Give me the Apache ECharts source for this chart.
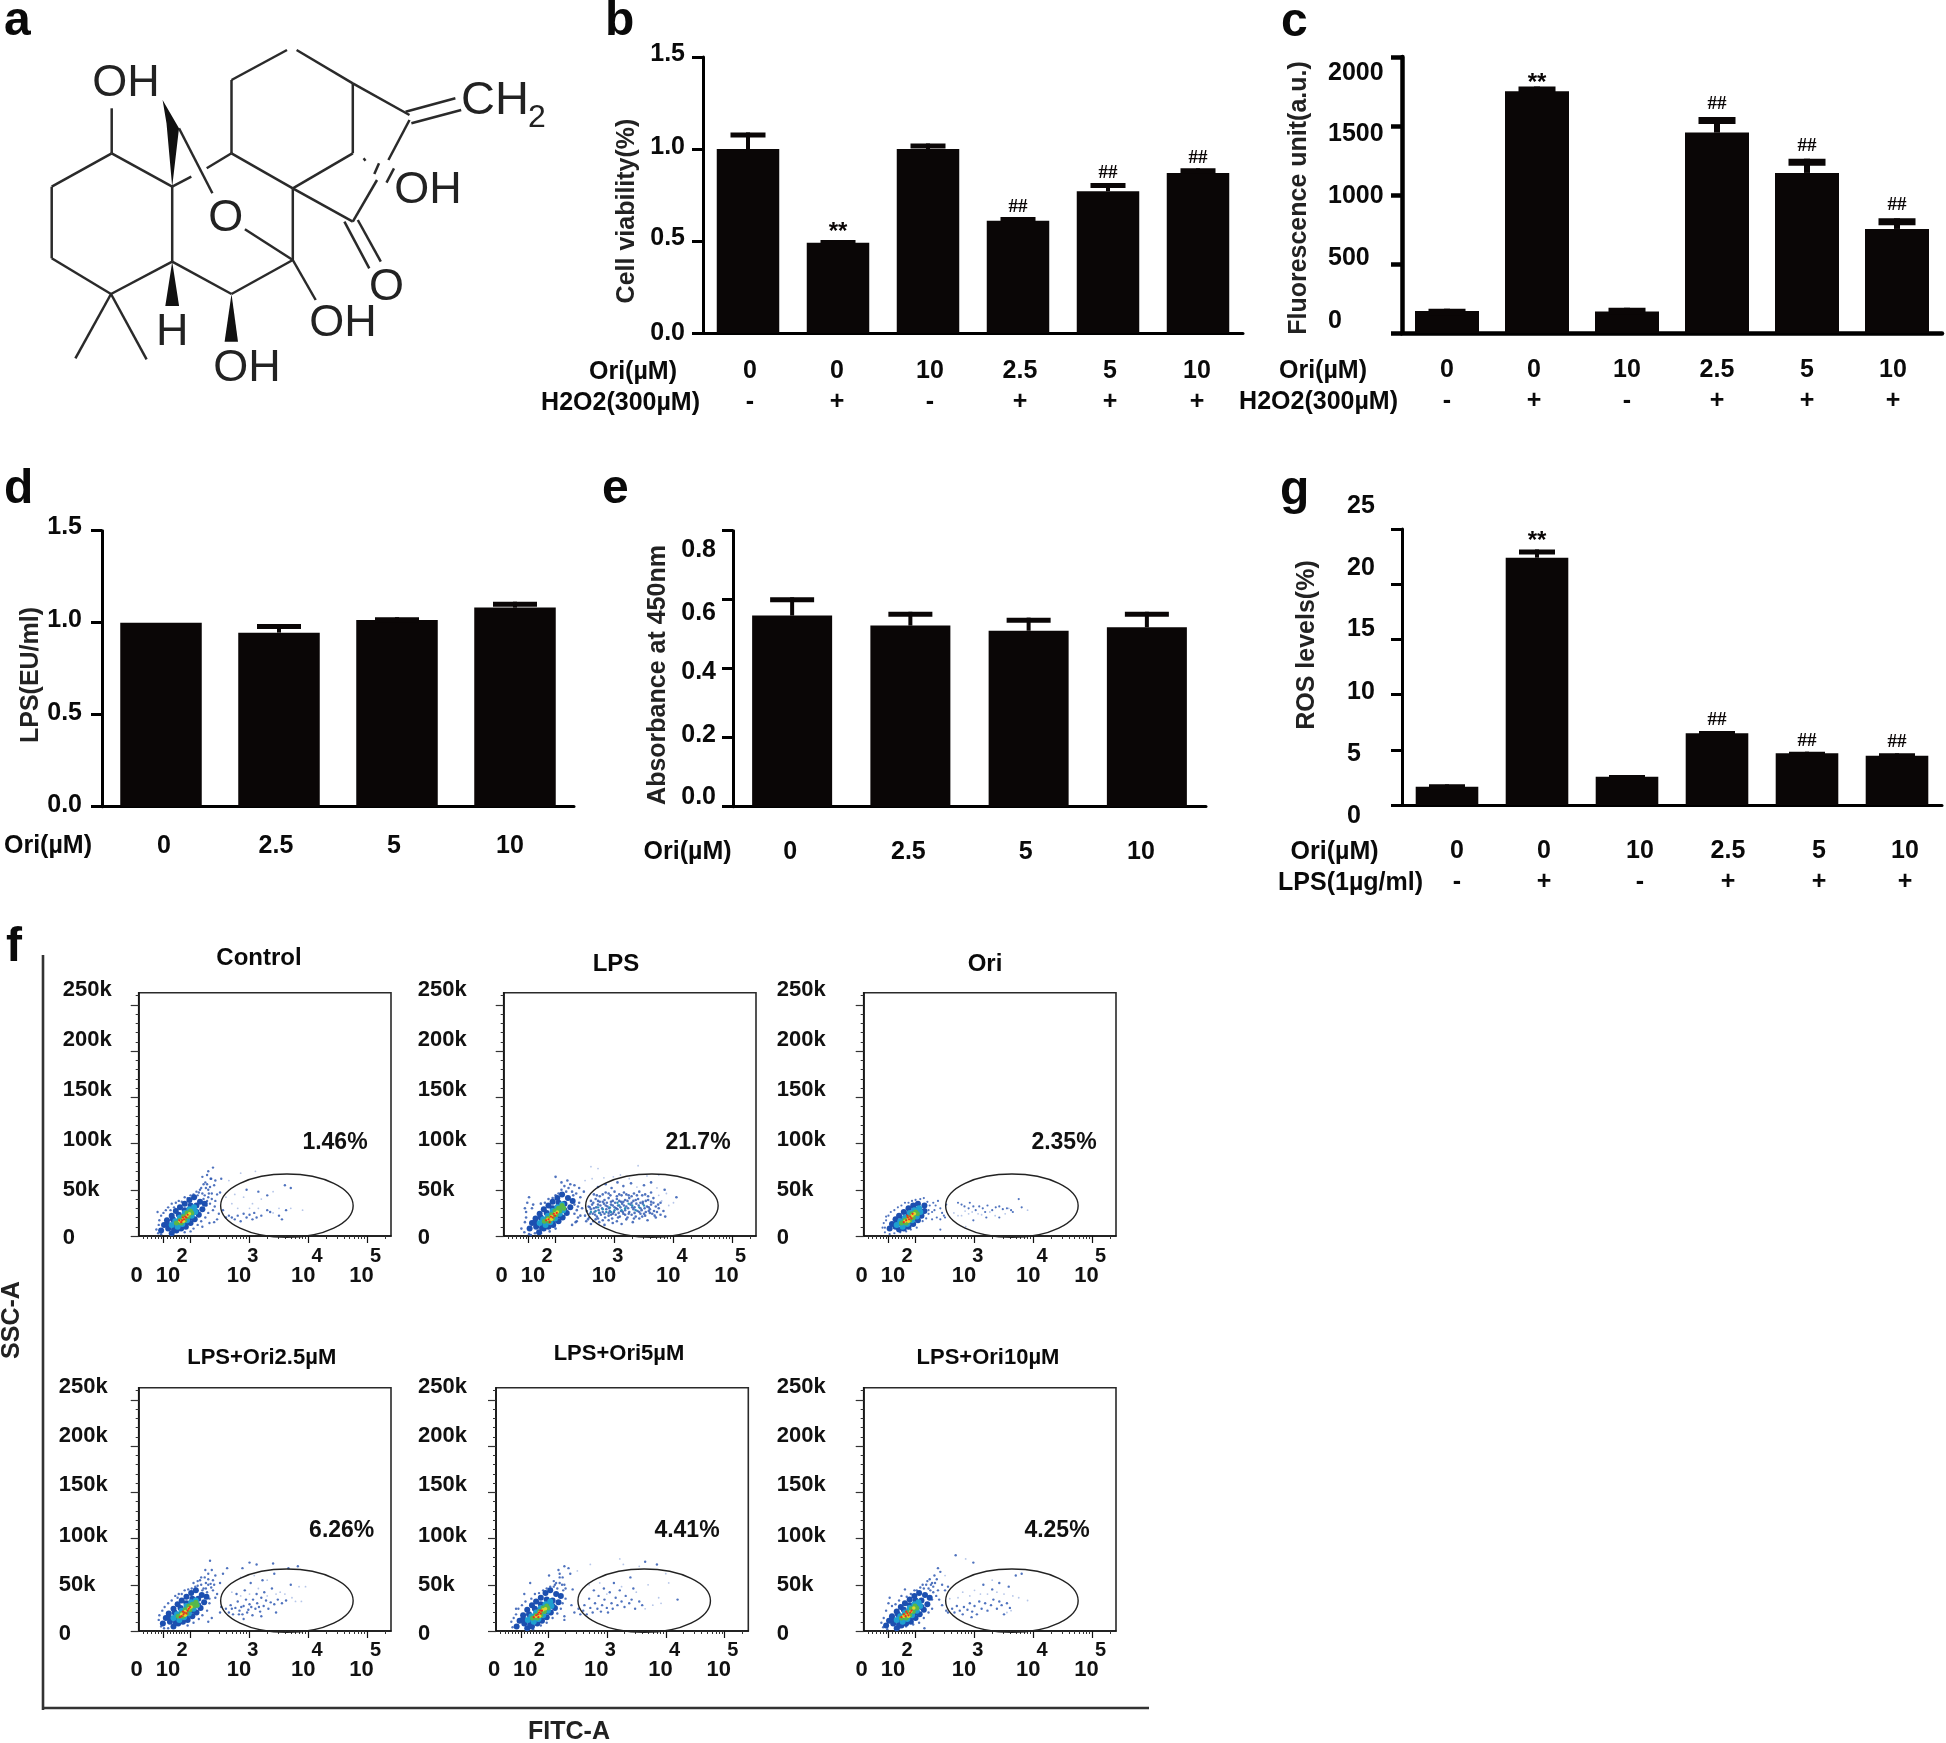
<!DOCTYPE html>
<html>
<head>
<meta charset="utf-8">
<title>Oridonin figure</title>
<script src="https://cdn.jsdelivr.net/npm/echarts@6/dist/echarts.min.js"></script>
<style>
  html, body { margin: 0; background: #fff; }
  #main { width: 1946px; height: 1743px; }
</style>
</head>
<body>
<div id="main"></div>
<script>
// ---- bar panels data ----
const bOri = ['0', '0', '10', '2.5', '5', '10'];
const bH2o2 = ['-', '+', '-', '+', '+', '+'];
const bValues = [1.0, 0.49, 1.0, 0.61, 0.77, 0.87];
const bErrorTop = [1.09, 0.505, 1.03, 0.63, 0.815, 0.895];
const bMarks = ['', '**', '', '##', '##', '##'];
const bTicks = ['0.0', '0.5', '1.0', '1.5'];

const cOri = ['0', '0', '10', '2.5', '5', '10'];
const cH2o2 = ['-', '+', '-', '+', '+', '+'];
const cValues = [159, 1752, 155, 1452, 1160, 754];
const cErrorTop = [176, 1786, 183, 1565, 1263, 831];
const cMarks = ['', '**', '', '##', '##', '##'];
const cTicks = ['0', '500', '1000', '1500', '2000'];

const dOri = ['0', '2.5', '5', '10'];
const dValues = [1.0, 0.946, 1.015, 1.082];
const dErrorTop = [1.0, 0.993, 1.03, 1.114];
const dTicks = ['0.0', '0.5', '1.0', '1.5'];

const eOri = ['0', '2.5', '5', '10'];
const eValues = [0.554, 0.525, 0.51, 0.52];
const eErrorTop = [0.607, 0.565, 0.548, 0.565];
const eTicks = ['0.0', '0.2', '0.4', '0.6', '0.8'];

const gOri = ['0', '0', '10', '2.5', '5', '10'];
const gLps = ['-', '+', '-', '+', '+', '+'];
const gValues = [1.66, 22.4, 2.57, 6.5, 4.68, 4.47];
const gErrorTop = [1.87, 23.15, 2.72, 6.7, 4.83, 4.68];
const gMarks = ['', '**', '', '##', '##', '##'];
const gTicks = ['0', '5', '10', '15', '20', '25'];

// ---- flow cytometry panels: x in log decades, y in thousands ----
const flowYTicks = [0, 50, 100, 150, 200, 250];
const flowYLabels = ['0', '50k', '100k', '150k', '200k', '250k'];
const flowXMajor = [1.54, 2, 3, 4, 5];
const flowXMinor = [1.2, 1.27, 1.33, 1.4, 1.45, 1.5, 1.6, 1.65, 1.7, 1.75, 1.8, 1.85, 1.9, 1.95,
  2.3, 2.48, 2.6, 2.7, 2.78, 2.85, 2.9, 2.95, 3.3, 3.48, 3.6, 3.7, 3.78, 3.85, 3.9, 3.95,
  4.3, 4.48, 4.6, 4.7, 4.78, 4.85, 4.9, 4.95, 5.3];
const flowXLabelAt = [1.12, 1.617, 2.82, 3.91, 4.9];
const flowXExponents = ['', '2', '3', '4', '5'];
const flowGate = [[3.634, 32.8, 1.124, 34.3]];

// blob rows are [x, y, density level]
const controlBlob = [[1.5,6,0],[1.55,12,0],[1.6,17,0],[1.68,22,0],[1.75,27,0],[1.82,31,0],[1.9,35,0],[1.98,39,0],[2.06,42,0],[1.68,3,0],[1.76,6,0],[1.84,8,0],[1.92,10,0],[2.0,14,0],[2.07,18,0],[2.14,23,0],[2.2,29,0],[2.24,35,0],[1.62,8,0],[1.72,12,0],[1.8,16,0],[1.9,22,0],[2.0,28,0],[2.1,33,0],[2.16,37,0],[1.6,13,0],[1.7,18,0],[1.8,23,0],[1.9,28,0],[2.0,33,0],[1.72,7,0],[1.82,11,0],[1.92,15,0],[2.02,20,0],[2.1,26,0],
  [1.68,12,1],[1.74,16,1],[1.82,20,1],[1.9,25,1],[1.98,29,1],[2.06,31,1],[1.78,10,1],[1.86,13,1],[1.94,17,1],[2.02,22,1],[2.08,26,1],
  [1.76,14,2],[1.82,17,2],[1.88,21,2],[1.94,25,2],[2.0,27,2],[1.84,14,2],[1.9,17,2],[1.96,21,2],[2.02,25,2],
  [1.82,16,3],[1.88,19,3],[1.94,22,3],[1.98,24,3],[1.88,16,3],
  [1.81,17,4],[1.84,15,4],[1.87,20,4],[1.89,18,4],[1.91,21,4],[1.93,20,4],[1.86,17,4],[1.95,23,4]];
const controlDots = [[1.45,3],[1.42,7],[1.46,12],[1.5,2],[1.47,17],[1.44,26],[1.5,22],[1.54,25],[1.58,28],[1.62,31],[1.66,28],[1.72,31],[1.68,35],[1.75,36],[1.8,38],[1.85,37],[1.9,42],[1.95,41],[2.0,44],[2.05,45],[2.1,48],[2.12,44],[2.18,52],[2.2,46],[2.25,58],[2.22,40],[2.3,50],[2.34,62],[2.38,74],[2.28,66],[2.4,55],[2.45,45],[2.33,35],[2.38,28],[2.42,38],[2.5,47],[2.52,62],[2.3,25],[2.25,20],[2.18,16],[2.12,12],[2.05,8],[2.2,10],[2.4,15],[2.32,14],[2.6,20],[2.55,28],[2.0,5],[1.9,4],[2.27,33],[2.3,42],[2.36,46],[2.26,52],[2.16,50],[2.22,56],[2.28,56],[2.33,53],[2.14,47],[2.24,44],[2.31,46],[2.36,40],[2.28,38],[2.41,32],[2.48,24],[2.45,18],[2.35,62],[2.2,64],[2.3,70],[2.42,60],
  [2.65,22],[2.7,20],[2.75,18],[2.8,22],[2.85,16],[2.9,24],[2.95,20],[3.0,23],[3.05,18],[3.08,25],[3.12,20],[3.2,22],[3.3,28],[3.35,26],[3.5,22],[3.55,18],[3.62,28],[3.6,55],[3.7,52],[2.95,50],[3.15,48],[3.3,44]];
const controlFaint = [[2.65,60],[2.85,68],[3.1,70],[2.75,45],[2.9,42],[3.05,35],[3.2,40],[2.8,30],[3.0,30],[3.4,48],[3.5,30],[3.9,28],[3.7,30],[2.6,42],[2.7,35],[3.15,30],[3.4,25]];

const lpsBlob = [[1.56,8,0],[1.6,14,0],[1.66,19,0],[1.73,24,0],[1.8,29,0],[1.88,33,0],[1.95,37,0],[2.03,41,0],[2.11,45,0],[1.72,4,0],[1.8,8,0],[1.88,10,0],[1.96,12,0],[2.05,16,0],[2.12,20,0],[2.19,25,0],[2.25,31,0],[2.29,38,0],[1.67,10,0],[1.77,14,0],[1.85,18,0],[1.95,24,0],[2.05,30,0],[2.15,35,0],[2.21,41,0],[1.65,15,0],[1.75,20,0],[1.85,25,0],[1.95,30,0],[2.05,36,0],[1.77,9,0],[1.87,13,0],[1.97,17,0],[2.07,22,0],[2.15,28,0],
  [1.73,14,1],[1.79,18,1],[1.87,22,1],[1.95,27,1],[2.03,31,1],[2.11,34,1],[1.83,12,1],[1.91,15,1],[1.99,19,1],[2.07,24,1],[2.13,28,1],
  [1.81,16,2],[1.87,19,2],[1.93,23,2],[1.99,27,2],[2.05,30,2],[2.11,33,2],[1.89,16,2],[1.95,19,2],[2.01,23,2],[2.07,27,2],[2.14,30,2],
  [1.87,18,3],[1.93,21,3],[1.99,24,3],[2.03,26,3],[1.93,18,3],
  [1.84,17,4],[1.88,18,4],[1.9,15,4],[1.92,21,4],[1.95,20,4],[1.97,24,4],[1.99,22,4],[2.02,25,4],
  [2.68,27,5],[2.74,25,5],[2.8,29,5],[2.86,26,5],[2.92,31,5],[3.0,28,5],[3.08,33,5],[3.18,30,5],[3.3,33,5],[3.42,31,5],[2.72,31,5],[2.94,26,5],[3.12,28,5],[3.24,35,5],[3.36,28,5],[3.5,33,5],[2.6,26,5],[3.05,36,5]];
const lpsDots = [[2.52,16],[2.6,13],[2.68,18],[2.74,15],[2.83,12],[2.9,17],[2.97,14],[3.04,16],[3.12,13],[3.2,18],[3.31,15],[3.42,19],[3.56,17],[3.7,20],
  [2.5,22],[2.57,20],[2.63,24],[2.7,21],[2.77,23],[2.84,20],[2.9,22],[2.96,19],[3.02,23],[3.09,21],[3.15,24],[3.22,20],[3.29,23],[3.36,21],[3.44,24],[3.52,22],[3.6,25],[3.68,22],[3.78,23],[3.86,21],
  [2.53,27],[2.6,29],[2.66,26],[2.73,28],[2.8,26],[2.86,29],[2.92,27],[2.99,26],[3.05,29],[3.11,27],[3.18,28],[3.25,26],[3.32,29],[3.39,27],[3.46,28],[3.53,26],[3.6,29],[3.67,27],[3.75,30],[3.83,27],
  [2.56,32],[2.62,34],[2.69,31],[2.76,33],[2.82,35],[2.88,32],[2.94,34],[3.0,31],[3.06,33],[3.13,35],[3.2,32],[3.27,34],[3.34,31],[3.41,33],[3.48,35],[3.55,32],[3.62,34],[3.7,32],[3.78,36],
  [2.6,38],[2.68,40],[2.75,37],[2.83,39],[2.9,41],[2.97,38],[3.04,40],[3.11,37],[3.18,39],[3.25,41],[3.32,38],[3.4,40],[3.48,37],[3.57,39],[3.66,41],
  [2.65,45],[2.75,43],[2.85,47],[2.93,44],[3.0,48],[3.08,45],[3.16,47],[3.24,44],[3.33,46],[3.42,48],[3.52,45],[3.62,47],
  [2.72,53],[2.85,56],[2.95,52],[3.05,58],[3.15,54],[3.28,57],[3.5,55],[3.62,58],[3.85,50],[4.05,42],
  [2.55,18],[2.64,16],[2.72,19],[2.8,17],[2.94,23],[3.06,20],[3.18,23],[3.33,19],[3.47,21],[3.64,24],[2.58,24],[2.67,23],[2.75,25],[2.83,24],[2.9,25],[2.97,24],[3.07,25],[3.14,26],[3.24,24],[3.34,25],[3.42,26],[3.5,24],[3.58,27],[3.72,26],
  [2.58,31],[2.65,30],[2.72,34],[2.79,30],[2.85,33],[2.91,30],[2.97,33],[3.03,30],[3.1,31],[3.16,33],[3.23,30],[3.3,31],[3.37,35],[3.44,30],[3.51,30],[3.58,31],[3.66,36],[3.74,34],
  [2.64,36],[2.72,38],[2.8,37],[2.87,36],[2.94,37],[3.01,36],[3.08,38],[3.15,37],[3.22,38],[3.29,36],[3.36,39],[3.44,36],[3.53,38],[3.62,37],[2.7,44],[2.8,45],[2.9,46],[3.04,43],[3.12,44],[3.2,45],[3.29,43],[3.38,44],[3.47,44],[3.57,43],
  [2.28,12],[2.34,15],[2.38,20],[2.36,16],[2.42,22],[2.32,24],[2.36,28],[2.38,32],[2.45,30],[2.32,34],[2.4,36],[2.3,44],[2.18,48],[2.1,50],[2.22,52],[2.28,48],[2.35,46],[2.42,42],[2.15,54],[2.25,56],[2.32,55],[2.4,52],[2.48,48],[2.05,46],[2.0,44],[1.95,41],[1.88,40],[1.82,36],[1.75,35],[2.1,58],[2.2,60],[2.0,64],
  [1.55,42],[1.52,36],[1.48,30],[1.5,26],[1.6,30],[1.62,34],[1.5,20],[1.48,15],[1.42,8],[1.47,4],[1.55,2],[1.65,3],[1.75,3],[1.9,5],[2.0,8],[1.58,1]];
const lpsFaint = [[2.5,60],[2.62,62],[2.82,63],[2.98,64],[3.1,66],[3.25,62],[3.55,65],[3.75,66],[3.38,53],[3.72,52],[3.8,38],[3.92,33],[3.88,46],[3.75,44],[4.0,36],[2.6,75],[2.72,73],[3.4,76]];

const oriBlob = [[1.56,8,0],[1.6,13,0],[1.66,18,0],[1.72,22,0],[1.8,26,0],[1.88,30,0],[1.96,33,0],[2.04,35,0],[1.72,7,0],[1.8,8,0],[1.88,10,0],[1.96,13,0],[2.04,17,0],[2.1,22,0],[2.15,27,0],[2.15,33,0],[1.66,10,0],[1.74,14,0],[1.84,18,0],[1.94,24,0],[2.04,28,0],[1.68,14,0],[1.78,18,0],[1.88,24,0],[1.98,29,0],[1.8,12,0],[1.92,16,0],[2.02,22,0],
  [1.68,12,1],[1.74,16,1],[1.82,20,1],[1.9,25,1],[1.98,28,1],[2.06,30,1],[1.78,10,1],[1.86,13,1],[1.94,17,1],[2.02,21,1],[2.08,26,1],
  [1.76,14,2],[1.82,17,2],[1.88,20,2],[1.94,24,2],[2.0,26,2],[1.84,14,2],[1.9,17,2],[1.96,20,2],[2.03,24,2],
  [1.82,16,3],[1.88,19,3],[1.94,22,3],[1.98,24,3],[1.88,16,3],
  [1.8,15,4],[1.84,17,4],[1.87,20,4],[1.89,18,4],[1.91,21,4],[1.93,19,4],[1.86,22,4],[1.95,24,4]];
const oriDots = [[1.48,4],[1.44,9],[1.46,14],[1.5,17],[1.5,21],[1.54,22],[1.58,26],[1.64,28],[1.7,31],[1.76,33],[1.82,36],[1.88,36],[1.94,38],[2.0,39],[2.08,40],[2.14,41],[2.2,37],[2.24,33],[2.22,28],[2.22,24],[2.18,19],[2.12,16],[2.02,9],[1.92,7],[1.84,5],[1.74,4],[1.64,3],[1.56,2],[1.48,9],[2.28,26],[2.32,28],[2.3,36],[2.38,38],[2.42,30],[2.45,25],[2.36,20],[2.42,18],[2.48,22],[2.52,34],[2.5,20],[2.42,7],[2.28,18],[2.34,33],
  [2.72,36],[2.78,34],[2.83,32],[2.9,30],[2.92,36],[2.98,32],[3.02,28],[3.08,32],[3.14,30],[3.18,26],[3.22,33],[3.3,28],[3.36,31],[3.42,32],[3.48,29],[3.55,30],[3.62,28],[3.65,26],[3.75,40],[3.8,31],[3.42,20],[3.2,20],[2.98,17]];
const oriFaint = [[2.65,25],[2.72,22],[2.78,22],[2.84,27],[2.9,24],[2.96,26],[3.06,24],[3.12,23],[3.26,26],[3.35,22],[3.52,24],[3.58,30],[3.9,28],[2.85,10]];

const l25Blob = [[1.53,8,0],[1.58,14,0],[1.63,19,0],[1.71,24,0],[1.78,29,0],[1.85,33,0],[1.93,37,0],[2.01,41,0],[2.09,44,0],[1.71,5,0],[1.79,8,0],[1.87,10,0],[1.95,12,0],[2.03,16,0],[2.1,20,0],[2.17,25,0],[2.23,31,0],[2.27,37,0],[1.65,10,0],[1.75,14,0],[1.83,18,0],[1.93,24,0],[2.03,30,0],[2.13,35,0],[2.19,39,0],[1.63,15,0],[1.73,20,0],[1.83,25,0],[1.93,30,0],[2.03,35,0],[1.75,9,0],[1.85,13,0],[1.95,17,0],[2.05,22,0],[2.13,28,0],
  [1.71,14,1],[1.77,18,1],[1.85,22,1],[1.93,27,1],[2.01,31,1],[2.09,33,1],[1.81,12,1],[1.89,15,1],[1.97,19,1],[2.05,24,1],[2.11,28,1],
  [1.79,16,2],[1.85,19,2],[1.91,23,2],[1.97,27,2],[2.03,29,2],[2.09,31,2],[1.87,16,2],[1.93,19,2],[1.99,23,2],[2.05,27,2],[2.11,28,2],
  [1.85,18,3],[1.91,21,3],[1.97,24,3],[2.01,26,3],[1.91,17,3],
  [1.82,15,4],[1.85,16,4],[1.88,18,4],[1.9,20,4],[1.93,19,4],[1.95,22,4],[1.97,24,4],[1.99,26,4],[1.87,21,4]];
const l25Dots = [[1.5,5],[1.46,12],[1.55,3],[1.62,3],[1.47,17],[1.52,22],[1.56,26],[1.62,30],[1.68,33],[1.74,38],[1.8,40],[1.78,36],[1.85,40],[1.9,44],[1.96,45],[2.02,46],[2.08,48],[2.12,49],[2.18,50],[2.22,46],[2.26,52],[2.3,56],[2.2,44],[2.28,42],[2.35,47],[2.38,55],[2.42,60],[2.3,62],[2.36,66],[2.24,58],[2.12,54],[2.05,52],[2.32,35],[2.32,30],[2.28,22],[2.2,17],[2.14,13],[2.05,9],[1.95,6],[2.36,14],[2.3,10],[2.5,20],[2.52,26],[2.45,40],[2.5,52],[2.55,62],[2.25,66],[2.33,76],[2.62,68],[2.88,68],[3.0,74],[3.12,72],[3.4,73],[3.66,68],[3.82,70],[2.16,55],[2.34,51],[2.38,44],[2.42,36],[2.18,58],[2.3,50],[2.4,50],[2.26,46],
  [2.6,24],[2.65,20],[2.68,28],[2.72,18],[2.76,25],[2.8,32],[2.83,22],[2.88,18],[2.9,27],[2.94,34],[2.98,23],[3.0,29],[3.05,17],[3.06,34],[3.1,24],[3.13,30],[3.18,21],[3.2,36],[3.24,27],[3.28,33],[3.32,24],[3.36,31],[3.42,29],[3.48,34],[3.55,30],[3.62,33],[2.78,40],[2.92,44],[3.12,40],[3.25,42],[3.38,46],[3.02,52],[3.22,55],[3.42,62],[3.7,50],[2.9,13],[3.2,16],[3.45,20],[2.7,24],[2.86,26],[3.03,26],[3.16,26],[2.82,18],[2.96,20]];
const l25Faint = [[2.7,42],[2.85,38],[3.0,40],[3.15,46],[3.3,38],[3.45,40],[3.52,42],[3.6,40],[3.72,36],[3.78,32],[3.88,32],[3.95,48],[3.84,48],[2.85,58],[3.3,55],[3.08,60]];

const l5Blob = [[1.47,5,0],[1.52,11,0],[1.58,17,0],[1.65,23,0],[1.73,28,0],[1.8,32,0],[1.88,36,0],[1.96,41,0],[2.04,44,0],[1.65,3,0],[1.73,5,0],[1.82,8,0],[1.9,11,0],[1.98,15,0],[2.05,20,0],[2.12,25,0],[2.18,31,0],[2.22,38,0],[1.6,8,0],[1.69,12,0],[1.78,16,0],[1.88,22,0],[1.98,28,0],[2.08,33,0],[2.14,40,0],[1.58,13,0],[1.68,18,0],[1.78,24,0],[1.88,29,0],[1.98,34,0],[1.7,7,0],[1.8,11,0],[1.9,15,0],[2.0,21,0],[2.08,27,0],
  [1.66,12,1],[1.72,16,1],[1.8,20,1],[1.88,25,1],[1.96,29,1],[2.04,32,1],[1.76,10,1],[1.84,13,1],[1.92,17,1],[2.0,22,1],[2.06,27,1],
  [1.74,14,2],[1.8,17,2],[1.86,21,2],[1.92,25,2],[1.98,27,2],[1.82,14,2],[1.88,17,2],[1.94,21,2],[2.0,25,2],
  [1.8,16,3],[1.86,20,3],[1.92,23,3],[1.96,24,3],[1.86,16,3],
  [1.76,15,4],[1.8,17,4],[1.83,18,4],[1.85,20,4],[1.88,19,4],[1.9,22,4],[1.87,22,4],[1.84,15,4]];
const l5Dots = [[1.4,4],[1.38,10],[1.42,14],[1.46,18],[1.46,24],[1.5,24],[1.56,28],[1.62,32],[1.72,35],[1.78,40],[1.85,41],[1.92,44],[1.98,46],[2.04,48],[2.1,48],[2.16,46],[2.2,52],[2.26,44],[2.28,50],[2.25,58],[2.2,62],[2.1,54],[2.28,70],[2.35,68],[2.38,62],[2.3,35],[2.25,30],[2.22,24],[2.16,19],[2.08,14],[1.98,9],[1.88,6],[1.75,2],[2.28,16],[2.28,12],[2.45,20],[2.52,24],[2.55,18],[2.02,60],[1.7,52],[1.6,40],[2.42,45],[2.4,28],[2.14,52],[2.2,58],[2.24,50],[2.3,46],[2.12,50],[2.18,66],
  [2.6,22],[2.62,28],[2.66,18],[2.7,35],[2.72,25],[2.76,20],[2.8,30],[2.84,24],[2.86,38],[2.9,21],[2.92,28],[2.96,34],[3.0,25],[3.02,20],[3.05,42],[3.08,30],[3.1,24],[3.15,36],[3.18,28],[3.22,44],[3.25,32],[3.3,26],[3.32,38],[3.38,30],[3.42,34],[3.45,46],[3.48,24],[3.55,32],[3.6,28],[2.78,44],[2.95,46],[3.12,52],[3.4,58],[3.65,75],[3.85,72],[4.2,34]];
const l5Faint = [[2.5,65],[2.72,72],[3.22,78],[3.28,72],[3.55,70],[2.7,50],[2.88,52],[3.0,40],[3.25,48],[3.5,42],[3.7,50],[3.78,28],[3.88,36],[3.92,30],[4.0,62],[4.05,52],[3.65,24]];

const l10Blob = [[1.5,6,0],[1.55,11,0],[1.6,16,0],[1.68,21,0],[1.75,26,0],[1.82,30,0],[1.9,34,0],[1.98,38,0],[2.06,41,0],[1.68,3,0],[1.76,6,0],[1.84,8,0],[1.92,10,0],[2.0,14,0],[2.07,18,0],[2.14,23,0],[2.2,29,0],[2.24,36,0],[1.62,8,0],[1.72,12,0],[1.8,16,0],[1.9,22,0],[2.0,28,0],[2.1,33,0],[2.16,39,0],[1.6,13,0],[1.7,18,0],[1.8,23,0],[1.9,28,0],[2.0,33,0],[1.72,7,0],[1.82,11,0],[1.92,15,0],[2.02,20,0],[2.1,26,0],
  [1.68,12,1],[1.74,16,1],[1.82,20,1],[1.9,25,1],[1.98,29,1],[2.05,31,1],[1.78,10,1],[1.86,13,1],[1.94,17,1],[2.02,22,1],[2.08,27,1],
  [1.76,14,2],[1.82,17,2],[1.87,20,2],[1.93,24,2],[1.99,27,2],[1.84,14,2],[1.9,17,2],[1.96,21,2],[2.02,25,2],
  [1.8,16,3],[1.86,18,3],[1.92,21,3],[1.97,25,3],[1.88,16,3],
  [1.76,15,4],[1.8,18,4],[1.83,16,4],[1.86,19,4],[1.88,17,4],[1.91,20,4],[1.93,22,4],[1.84,21,4]];
const l10Dots = [[1.45,4],[1.42,9],[1.52,2],[1.46,14],[1.5,22],[1.54,30],[1.56,36],[1.6,27],[1.66,29],[1.72,33],[1.76,38],[1.82,45],[1.85,37],[1.92,40],[1.98,44],[2.02,44],[2.08,47],[2.14,46],[2.18,50],[2.22,46],[2.28,52],[2.32,60],[2.38,68],[2.36,56],[2.42,64],[2.25,44],[2.3,42],[2.28,34],[2.35,38],[2.4,34],[2.28,24],[2.22,20],[2.14,14],[2.06,9],[1.96,7],[1.84,5],[1.72,3],[2.45,28],[2.52,22],[2.55,20],[2.5,44],[2.45,50],[2.68,82],[2.98,74],[2.55,48],[2.15,3],[2.12,50],[2.2,54],[2.26,50],[2.3,48],[2.33,52],[2.24,56],[2.38,44],
  [2.62,24],[2.66,20],[2.7,27],[2.75,22],[2.8,18],[2.82,26],[2.88,23],[2.92,30],[2.96,21],[3.0,27],[3.04,18],[3.08,32],[3.12,24],[3.18,30],[3.22,22],[3.28,28],[3.32,34],[3.38,24],[3.42,32],[3.46,28],[3.5,18],[3.55,30],[3.6,25],[3.15,50],[3.3,45],[3.42,52],[3.58,48],[3.7,60],[3.8,62],[2.95,15]];
const l10Faint = [[2.58,35],[2.72,36],[2.8,42],[2.92,38],[3.0,44],[3.1,40],[3.22,40],[3.3,55],[3.38,42],[3.5,40],[3.65,38],[3.75,36],[3.9,33],[3.62,22],[3.55,20],[2.85,78],[2.5,60]];

// ---- panel a molecule, drawn as plain picture lines ----
const moleculeBonds = [
  [111.7,153.3,111.7,108.3],[111.7,153.3,51.7,186.7],[51.7,186.7,51.7,258.3],[51.7,258.3,111,294],[111,294,172.2,261.7],[172.2,261.7,172.2,186.7],[172.2,186.7,111.7,153.3],
  [111,294,75.4,358.3],[111,294,146.6,359.3],[179,128.3,212.4,193.3],[172.2,186.7,191.3,176.7],[206.7,168.3,231.5,153.3],
  [231.5,153.3,231.5,80],[231.5,80,287,50],[296.6,50,352.8,83.3],[352.8,83.3,352.8,153.3],[352.8,153.3,292.8,188.3],[292.8,188.3,231.5,153.3],
  [352.8,83.3,409.5,115],[405.6,111.7,455.4,98.3],[411.4,123.3,461.2,110],[409.5,120,388.4,160],[377,180,352.8,221.7],
  [363.6,158.3,365.5,160.7],[379,163.3,374.3,174],[394,168.3,386.5,182.7],
  [292.8,188.3,352.8,221.7],[344.4,221.7,369.3,268.3],[357.8,220,380.8,261.7],[292.8,188.3,292.8,260],[244.9,229.3,292.8,260],
  [172.2,261.7,231.5,294],[231.5,294,292.8,260],[292.8,260,315.7,300]
];
const moleculeWedges = [
  [[162.6,100],[179,128.3],[172.2,186.7],[166.5,123.3]],
  [[172.2,261.7],[179.1,306],[165.3,306]],
  [[231.5,294],[238,341.7],[224.6,341.7]]
];
const moleculeLabels = [['OH',126,83.5],['CH',495,101],['OH',428,191],['O',225.8,219],['O',386.5,288],['OH',343,324],['H',172.2,333],['OH',247,369]];

const SANS = '"Liberation Sans", Arial, sans-serif';
const SERIF = '"Liberation Serif", serif';

const grids = [], xAxes = [], yAxes = [], series = [], graphics = [];

function txt(text, x, y, size, opt) {
  opt = opt || {};
  graphics.push({
    type: 'text', x: x, y: y, rotation: opt.rotation || 0, silent: true,
    style: {
      text: text, fontSize: size, fontFamily: opt.family || SANS, fontWeight: opt.weight || 'bold',
      fill: opt.fill || '#0a0a0a', align: opt.align || 'center', verticalAlign: 'middle',
      textAlign: opt.align || 'center', textVerticalAlign: 'middle'
    }
  });
}

function gline(x1, y1, x2, y2, w, color) {
  graphics.push({ type: 'line', silent: true, shape: { x1: x1, y1: y1, x2: x2, y2: y2 }, style: { stroke: color, lineWidth: w } });
}

// rich style that moves one label by a few pixels, the source figure has its labels pasted off the ticks
function nudgeStyle(dx, up, font) {
  return Object.assign({
    padding: [up < 0 ? -2 * up : 0, dx < 0 ? -2 * dx : 0, up > 0 ? 2 * up : 0, dx > 0 ? 2 * dx : 0]
  }, font);
}

function barPanel(p) {
  const idx = grids.length;
  grids.push({ left: p.left, top: p.top, width: p.width, height: p.height, containLabel: false });
  const rowFont = { fontSize: 25, fontWeight: 'bold', fontFamily: SANS, color: '#0a0a0a', lineHeight: 31 };
  const xRich = {};
  p.cats.forEach(function (c, i) { xRich['p' + i] = nudgeStyle(p.xNudge[i], 0, rowFont); });
  xAxes.push({
    type: 'category', gridIndex: idx, data: p.cats,
    axisLine: { lineStyle: { color: '#000', width: p.lineW } },
    axisTick: { alignWithLabel: true, length: 10, lineStyle: { color: '#000', width: p.lineW } },
    axisLabel: {
      interval: 0, margin: p.xMargin + 1, rich: xRich,
      formatter: function (v, i) {
        let s = '{p' + i + '|' + v + '}';
        if (p.signs) s += '\n{p' + i + '|' + p.signs[i] + '}';
        return s;
      }
    }
  });
  const yFont = { fontSize: 25, fontWeight: 'bold', fontFamily: SANS, color: '#0a0a0a' };
  const yRich = {};
  p.ticks.forEach(function (t, i) { yRich['n' + i] = nudgeStyle(0, p.yNudge[i] - 1.5, yFont); });
  yAxes.push({
    type: 'value', gridIndex: idx, min: 0, max: p.max, interval: p.interval,
    splitLine: { show: false },
    axisLine: { show: true, lineStyle: { color: '#000', width: p.lineW } },
    axisTick: { show: true, length: 11, lineStyle: { color: '#000', width: p.lineW } },
    axisLabel: {
      margin: p.yMargin, align: p.yAlign || 'right', rich: yRich,
      formatter: function (v, i) { return '{n' + i + '|' + p.ticks[i] + '}'; }
    }
  });
  series.push({
    type: 'bar', xAxisIndex: idx, yAxisIndex: idx, data: p.values, barWidth: p.barW,
    itemStyle: { color: '#0a0606' }, z: 2
  });
  series.push({
    type: 'custom', xAxisIndex: idx, yAxisIndex: idx, z: 3,
    data: p.errs.map(function (e, i) { return [i, e]; }),
    encode: { x: 0, y: 1 },
    renderItem: function (params, api) {
      const i = params.dataIndex;
      const topPt = api.coord([i, api.value(1)]);
      const basePt = api.coord([i, p.values[i]]);
      const kids = [];
      if (p.errs[i] > p.values[i]) {
        kids.push({ type: 'rect', shape: { x: topPt[0] - p.stemW / 2, y: topPt[1], width: p.stemW, height: basePt[1] - topPt[1] }, style: { fill: '#0a0606' } });
        kids.push({ type: 'rect', shape: { x: topPt[0] - p.capW / 2, y: topPt[1], width: p.capW, height: p.capH }, style: { fill: '#0a0606' } });
      }
      const m = p.marks && p.marks[i];
      if (m) {
        const star = m === '**';
        kids.push({
          type: 'text', x: topPt[0] + (p.markDx || 0), y: topPt[1] - (star ? p.starUp : p.hashUp),
          style: {
            text: m, fontSize: star ? 24 : 19, fontWeight: 'bold', fontFamily: star ? SANS : SERIF,
            fill: '#0a0606', align: 'center', verticalAlign: 'middle', textAlign: 'center', textVerticalAlign: 'middle'
          }
        });
      }
      return { type: 'group', children: kids };
    }
  });
}

const levelColor = ['#1c4fb0', '#1f9fd0', '#58b84a', '#e6d52a', '#ee2c1c', '#2a8fb8'];
const levelSize = [6, 6, 5, 3.5, 2.2, 2.4];

function nearestIndex(list, v) {
  let best = 0;
  list.forEach(function (x, i) { if (Math.abs(x - v) < Math.abs(list[best] - v)) best = i; });
  return best;
}

function flowPanel(p) {
  const idx = grids.length;
  const box = { left: p.left, top: p.top, width: 252.3, height: 243.3 };
  grids.push(Object.assign({ show: true, borderColor: '#2a2a2a', borderWidth: 1.6, backgroundColor: 'transparent', containLabel: false }, box));
  const xIdx = xAxes.length;
  const bigFont = { fontSize: 22, fontWeight: 'bold', fontFamily: SANS, color: '#111', lineHeight: 20 };
  xAxes.push({
    type: 'value', gridIndex: idx, min: 1.12, max: 5.4,
    splitLine: { show: false },
    axisLine: { onZero: false, lineStyle: { color: '#111', width: 1.6 } },
    axisTick: { show: true, customValues: flowXMajor, length: 7, lineStyle: { color: '#111', width: 1.2 } },
    axisLabel: {
      customValues: flowXLabelAt, margin: p.xMargin, hideOverlap: false,
      showMinLabel: true, showMaxLabel: true,
      rich: {
        b: bigFont,
        z: Object.assign({ padding: [0, 4, 0, 0] }, bigFont),
        t: { fontSize: 4, lineHeight: 20 },
        s: { fontSize: 20, fontWeight: 'bold', fontFamily: SANS, color: '#111', lineHeight: 20, padding: [0, 0, 0, 28] }
      },
      formatter: function (v) {
        const i = nearestIndex(flowXLabelAt, v);
        if (i === 0) return '{t|\u00a0}\n{z|0}';
        return '{s|' + flowXExponents[i] + '}\n{b|10}';
      }
    }
  });
  // second axis only carries the small log ticks
  xAxes.push({
    type: 'value', gridIndex: idx, min: 1.12, max: 5.4, position: 'bottom',
    splitLine: { show: false }, axisLine: { show: false }, axisLabel: { show: false },
    axisTick: { show: true, customValues: flowXMinor, length: 3, lineStyle: { color: '#333', width: 1 } }
  });
  const yIdx = yAxes.length;
  const yFont = { fontSize: 22, fontWeight: 'bold', fontFamily: SANS, color: '#111' };
  const yRich = {};
  flowYLabels.forEach(function (t, i) { yRich['n' + i] = nudgeStyle(0, p.yNudge[i], yFont); });
  yAxes.push({
    type: 'value', gridIndex: idx, min: 0, max: 263.3,
    splitLine: { show: false },
    axisLine: { show: true, onZero: false, lineStyle: { color: '#111', width: 1.6 } },
    axisTick: { show: true, customValues: flowYTicks, length: 8, lineStyle: { color: '#333', width: 1.2 } },
    minorTick: { show: true, splitNumber: 5, length: 3, lineStyle: { color: '#333', width: 1 } },
    axisLabel: {
      customValues: flowYTicks, margin: p.yMargin, align: 'left', rich: yRich,
      formatter: function (v) {
        const i = nearestIndex(flowYTicks, v);
        return '{n' + i + '|' + flowYLabels[i] + '}';
      }
    }
  });
  series.push({
    type: 'scatter', xAxisIndex: xIdx, yAxisIndex: yIdx, data: p.faint, symbolSize: 1.8, z: 3,
    itemStyle: { color: '#a4b8e4' }
  });
  series.push({
    type: 'scatter', xAxisIndex: xIdx, yAxisIndex: yIdx, data: p.dots, symbolSize: p.dotSize, z: 3,
    itemStyle: { color: '#2450ae' }
  });
  series.push({
    type: 'scatter', xAxisIndex: xIdx, yAxisIndex: yIdx, data: p.blob, z: 4,
    symbolSize: function (d) { return levelSize[d[2]]; },
    itemStyle: { color: function (q) { return levelColor[q.data[2]]; }, opacity: 1 }
  });
  series.push({
    type: 'custom', xAxisIndex: xIdx, yAxisIndex: yIdx, z: 5, silent: true,
    data: flowGate, encode: { x: 0, y: 1 },
    renderItem: function (params, api) {
      const c = api.coord([api.value(0), api.value(1)]);
      const s = api.size([api.value(2), api.value(3)]);
      return { type: 'ellipse', shape: { cx: c[0], cy: c[1], rx: s[0], ry: s[1] }, style: { fill: 'none', stroke: '#222', lineWidth: 1.4 } };
    }
  });
  txt(p.title, p.titleX, p.titleY, p.titleSize);
  txt(p.pct, p.pctX, p.pctY, 23, { fill: '#111' });
}

// ---- bar panels ----
barPanel({ left: 703, top: 57, width: 540, height: 276, max: 1.5, interval: 0.5, cats: bOri, signs: bH2o2, values: bValues, errs: bErrorTop, marks: bMarks, ticks: bTicks,
  barW: 62.5, capW: 35, capH: 5, stemW: 4, lineW: 3, yMargin: 18, xMargin: 22, xNudge: [2, -1, 2, 2, 2, -1], yNudge: [1, 4, 3, 4], starUp: 8, hashUp: 10 });
barPanel({ left: 1402, top: 57, width: 540, height: 276, max: 2000, interval: 500, cats: cOri, signs: cH2o2, values: cValues, errs: cErrorTop, marks: cMarks, ticks: cTicks,
  barW: 64, capW: 37, capH: 7, stemW: 6, lineW: 4.5, yMargin: 74, yAlign: 'left', xMargin: 21, xNudge: [0, -3, 0, 0, 0, -4], yNudge: [13, 7, 0, -7, -15], starUp: 3, hashUp: 13 });
barPanel({ left: 102, top: 530.7, width: 472, height: 276, max: 1.5, interval: 0.5, cats: dOri, values: dValues, errs: dErrorTop, ticks: dTicks,
  barW: 81.5, capW: 44, capH: 5, stemW: 4, lineW: 3, yMargin: 20, xMargin: 23, xNudge: [3, -3, -3, -5], yNudge: [3, 3, 4, 5] });
barPanel({ left: 733, top: 530.7, width: 473, height: 276, max: 0.8, interval: 0.2, cats: eOri, values: eValues, errs: eErrorTop, ticks: eTicks,
  barW: 80, capW: 44, capH: 5, stemW: 4, lineW: 3, yMargin: 17, xMargin: 29, xNudge: [-2, -2, -3, -6], yNudge: [11, 4, -2, -12, -18] });
barPanel({ left: 1402, top: 529, width: 540, height: 276, max: 25, interval: 5, cats: gOri, signs: gLps, values: gValues, errs: gErrorTop, marks: gMarks, ticks: gTicks,
  barW: 62.6, capW: 36, capH: 5, stemW: 4, lineW: 3, yMargin: 55, yAlign: 'left', xMargin: 30, xNudge: [10, 7, 13, 11, 12, 8], yNudge: [-10, -3, 4, 12, 18, 24], starUp: 8, hashUp: 11 });

// ---- flow panels ----
const row1Nudge = [-2, 0, 4, 7, 11, 15];
const row2Nudge = [-3, 0, 3, 7, 10, 13];
flowPanel({ left: 138.7, top: 992.7, blob: controlBlob, dots: controlDots, faint: controlFaint, dotSize: 2.4, yNudge: row1Nudge, yMargin: 76, xMargin: 10,
  title: 'Control', titleX: 259, titleY: 958, titleSize: 24, pct: '1.46%', pctX: 335, pctY: 1143 });
flowPanel({ left: 503.7, top: 992.7, blob: lpsBlob, dots: lpsDots, faint: lpsFaint, dotSize: 2.6, yNudge: row1Nudge, yMargin: 86, xMargin: 10,
  title: 'LPS', titleX: 616, titleY: 964, titleSize: 24, pct: '21.7%', pctX: 698, pctY: 1143 });
flowPanel({ left: 863.7, top: 992.7, blob: oriBlob, dots: oriDots, faint: oriFaint, dotSize: 2.2, yNudge: row1Nudge, yMargin: 87, xMargin: 10,
  title: 'Ori', titleX: 985, titleY: 964, titleSize: 24, pct: '2.35%', pctX: 1064, pctY: 1143 });
flowPanel({ left: 138.7, top: 1387.7, blob: l25Blob, dots: l25Dots, faint: l25Faint, dotSize: 2.4, yNudge: row2Nudge, yMargin: 80, xMargin: 9,
  title: 'LPS+Ori2.5µM', titleX: 261.7, titleY: 1358, titleSize: 22, pct: '6.26%', pctX: 341.7, pctY: 1531 });
flowPanel({ left: 496, top: 1387.7, blob: l5Blob, dots: l5Dots, faint: l5Faint, dotSize: 2.4, yNudge: row2Nudge, yMargin: 78, xMargin: 9,
  title: 'LPS+Ori5µM', titleX: 619, titleY: 1354, titleSize: 22, pct: '4.41%', pctX: 687, pctY: 1531 });
flowPanel({ left: 863.7, top: 1387.7, blob: l10Blob, dots: l10Dots, faint: l10Faint, dotSize: 2.4, yNudge: row2Nudge, yMargin: 87, xMargin: 9,
  title: 'LPS+Ori10µM', titleX: 988, titleY: 1358, titleSize: 22, pct: '4.25%', pctX: 1057, pctY: 1531 });

// ---- panel letters ----
txt('a', 4, 22, 48, { align: 'left' });
txt('b', 605, 22, 48, { align: 'left' });
txt('c', 1281, 23, 48, { align: 'left' });
txt('d', 4, 490, 48, { align: 'left' });
txt('e', 602, 490, 48, { align: 'left' });
txt('g', 1280, 491, 48, { align: 'left' });
txt('f', 6, 948, 48, { align: 'left' });

// ---- y titles and row names ----
const UP = Math.PI / 2;
txt('Cell viability(%)', 627, 211, 25, { rotation: UP, fill: '#222' });
txt('Fluorescence unit(a.u.)', 1299, 198, 25, { rotation: UP, fill: '#222' });
txt('LPS(EU/ml)', 31, 675, 25, { rotation: UP, fill: '#222' });
txt('Absorbance at 450nm', 658, 675, 25, { rotation: UP, fill: '#222' });
txt('ROS levels(%)', 1307, 645, 25, { rotation: UP, fill: '#222' });
txt('Ori(µM)', 677, 372.5, 25, { align: 'right' });
txt('H2O2(300µM)', 700, 403.5, 25, { align: 'right' });
txt('Ori(µM)', 1367, 371.5, 25, { align: 'right' });
txt('H2O2(300µM)', 1398, 402.5, 25, { align: 'right' });
txt('Ori(µM)', 92, 846.5, 25, { align: 'right' });
txt('Ori(µM)', 731.6, 852.5, 25, { align: 'right' });
txt('Ori(µM)', 1378.6, 852.5, 25, { align: 'right' });
txt('LPS(1µg/ml)', 1423, 883.5, 25, { align: 'right' });

// ---- flow frame ----
gline(43, 955, 43, 1710, 2.6, '#333');
gline(43, 1708, 1149, 1708, 2.6, '#333');
txt('SSC-A', 12, 1320, 25, { rotation: UP, fill: '#222' });
txt('FITC-A', 569, 1732, 25, { fill: '#222' });

// ---- molecule ----
moleculeBonds.forEach(function (b) { gline(b[0], b[1], b[2], b[3], 2.5, '#2a2a2a'); });
moleculeWedges.forEach(function (w) {
  graphics.push({ type: 'polygon', silent: true, shape: { points: w }, style: { fill: '#111' } });
});
moleculeLabels.forEach(function (l) { txt(l[0], l[1], l[2], l[0] === 'CH' ? 47 : 45, { weight: 'normal', fill: '#222' }); });
txt('2', 537, 118, 32, { weight: 'normal', fill: '#222' });

const myChart = echarts.init(document.getElementById('main'), null, { renderer: 'canvas' });
myChart.setOption({
  animation: false,
  backgroundColor: '#fff',
  grid: grids,
  xAxis: xAxes,
  yAxis: yAxes,
  series: series,
  graphic: { elements: graphics }
});
</script>
</body>
</html>
